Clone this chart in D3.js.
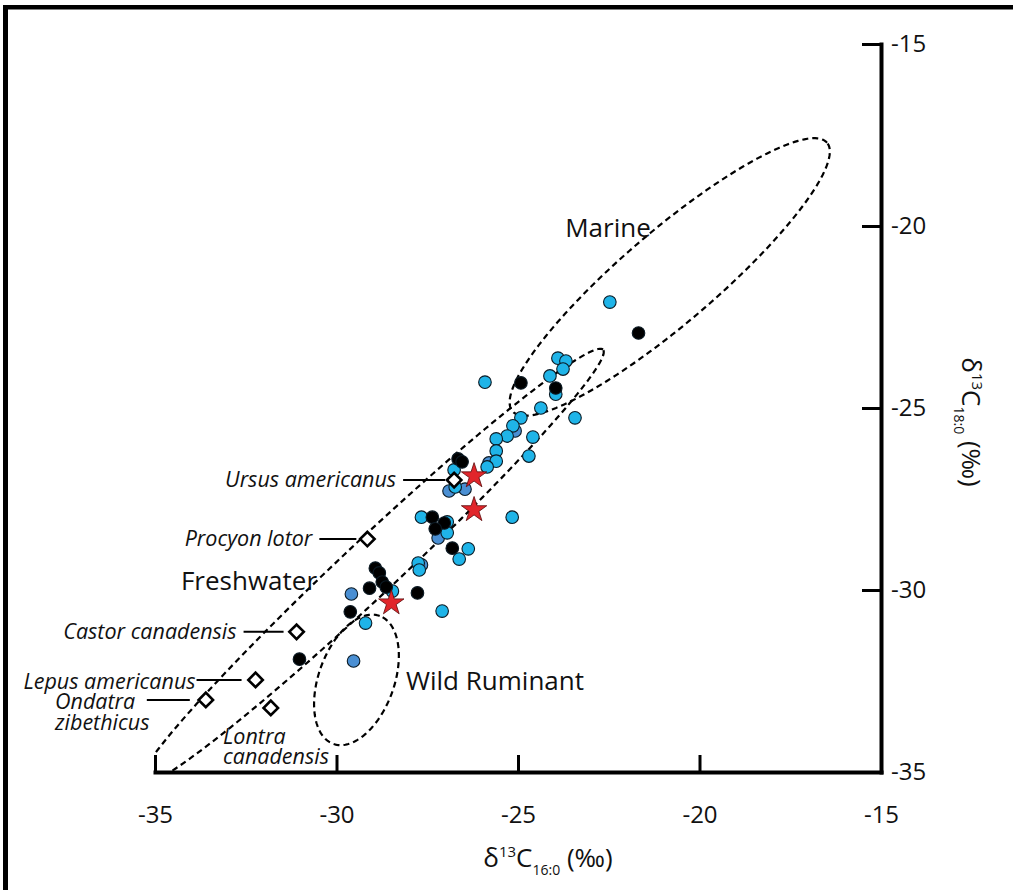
<!DOCTYPE html>
<html>
<head>
<meta charset="utf-8">
<script src="https://cdn.jsdelivr.net/npm/d3@7"></script>
<style>
  body { margin: 0; background: #fff; }
  svg { display: block; font-family: "Open Sans", sans-serif; }
</style>
</head>
<body>
<div id="chart"></div>
<script>
// axis ticks
const xTicks = [-35, -30, -25, -20, -15];
const yTicks = [-15, -20, -25, -30, -35];

// archaeological residues [d13C 16:0, d13C 18:0]
const cyanPts = [
  [-22.47, -22.09], [-25.91, -24.29], [-23.90, -23.63], [-23.68, -23.71], [-23.76, -23.93],
  [-24.12, -24.12], [-23.96, -24.62], [-24.37, -25.00], [-23.43, -25.27], [-24.92, -25.27],
  [-25.14, -25.49], [-25.30, -25.77], [-25.60, -25.85], [-24.59, -25.80], [-25.60, -26.18],
  [-24.70, -26.32], [-25.60, -26.46], [-25.85, -26.62], [-26.76, -26.70], [-26.73, -27.17],
  [-25.16, -28.00], [-27.66, -28.00], [-26.95, -28.13], [-26.95, -28.43], [-26.37, -28.87],
  [-26.62, -29.15], [-27.75, -29.26], [-27.72, -29.45], [-28.46, -30.03], [-29.20, -30.91],
  [-27.09, -30.58]
];
const bluePts = [
  [-25.08, -25.63], [-25.80, -26.51], [-26.90, -27.28], [-26.46, -27.23],
  [-27.20, -28.57], [-27.66, -29.31], [-29.59, -30.11], [-29.53, -31.95]
];
const blackPts = [
  [-21.68, -22.94], [-24.92, -24.31], [-23.96, -24.45], [-26.65, -26.40], [-26.54, -26.48],
  [-27.36, -28.00], [-27.03, -28.16], [-27.28, -28.32], [-26.81, -28.85], [-28.93, -29.40],
  [-28.82, -29.53], [-28.74, -29.78], [-28.63, -29.92], [-29.09, -29.95], [-27.77, -30.08],
  [-29.62, -30.60], [-31.02, -31.90]
];
const starPts = [[-26.21, -26.84], [-26.21, -27.77], [-28.49, -30.33]];

// modern reference animals
const refNames = ["Ursus americanus", "Procyon lotor", "Castor canadensis",
  "Lepus americanus", "Ondatra zibethicus", "Lontra canadensis"];
const refX = [-26.76, -29.15, -31.10, -32.23, -33.60, -31.81];
const refY = [-26.98, -28.60, -31.15, -32.47, -33.02, -33.24];

// reference ranges (centre, semi axes, tilt in degrees)
const rangeNames = ["Marine", "Freshwater", "Wild Ruminant"];
const rangeCx = [-20.82, -29.04, -29.45];
const rangeCy = [-21.40, -29.37, -32.47];
const rangeA = [5.69, 8.74, 1.87];
const rangeB = [1.27, 0.76, 1.04];
const rangeAngle = [40.4, 43.1, 70];

const width = 1013, height = 890;
const svg = d3.select("#chart").append("svg")
  .attr("width", width)
  .attr("height", height);

// frame (top and left only)
svg.append("rect").attr("x", 3).attr("y", 5).attr("width", 5).attr("height", height).attr("fill", "#000");
svg.append("rect").attr("x", 3).attr("y", 5).attr("width", width).attr("height", 4.5).attr("fill", "#000");

const x = d3.scaleLinear().domain([-35, -15]).range([155, 881]);
const y = d3.scaleLinear().domain([-35, -15]).range([772, 44]);

svg.append("clipPath").attr("id", "plotclip")
  .append("rect").attr("x", 155).attr("y", 30).attr("width", 726).attr("height", 742);

// dashed ellipses
const ell = d3.line().x(d => x(d[0])).y(d => y(d[1])).curve(d3.curveLinearClosed);
const rangeG = svg.append("g").attr("clip-path", "url(#plotclip)");
rangeNames.forEach((n, i) => {
  const phi = rangeAngle[i] * Math.PI / 180;
  const pts = d3.range(0, 360, 2).map(deg => {
    const t = deg * Math.PI / 180;
    const u = rangeA[i] * Math.cos(t), v = rangeB[i] * Math.sin(t);
    return [rangeCx[i] + u * Math.cos(phi) - v * Math.sin(phi),
            rangeCy[i] + u * Math.sin(phi) + v * Math.cos(phi)];
  });
  rangeG.append("path")
    .attr("d", ell(pts))
    .attr("fill", "none")
    .attr("stroke", "#000")
    .attr("stroke-width", 2.2)
    .attr("stroke-dasharray", "6,4");
});

// axes (plain hyphen for negatives, like the original)
const fmt = d => String(d);
const xAxis = svg.append("g")
  .attr("transform", "translate(0,772)")
  .call(d3.axisBottom(x).tickValues(xTicks).tickFormat(fmt).tickSize(-17).tickSizeOuter(0).tickPadding(34));
const yAxis = svg.append("g")
  .attr("transform", "translate(881,0)")
  .call(d3.axisRight(y).tickValues(yTicks).tickFormat(fmt).tickSize(-19).tickSizeOuter(0).tickPadding(10));
[xAxis, yAxis].forEach(g => {
  g.select(".domain").attr("stroke-width", 4).attr("stroke-linecap", "square");
  g.selectAll(".tick line").attr("stroke-width", 3);
  g.selectAll(".tick text").attr("font-size", 24).attr("fill", "#111")
    .attr("font-family", "Open Sans, sans-serif");
});

// axis titles
const xTitle = svg.append("text")
  .attr("x", 548).attr("y", 867)
  .attr("text-anchor", "middle")
  .attr("font-size", 26).attr("fill", "#111");
xTitle.append("tspan").text("δ");
xTitle.append("tspan").attr("font-size", 15).attr("dy", -10).text("13");
xTitle.append("tspan").attr("dy", 10).text("C");
xTitle.append("tspan").attr("font-size", 14).attr("dy", 8).text("16:0");
xTitle.append("tspan").attr("dy", -8).text(" (‰)");

const yTitle = svg.append("text")
  .attr("transform", "translate(962,422) rotate(90)")
  .attr("text-anchor", "middle")
  .attr("font-size", 26).attr("fill", "#111");
yTitle.append("tspan").text("δ");
yTitle.append("tspan").attr("font-size", 15).attr("dy", -10).text("13");
yTitle.append("tspan").attr("dy", 10).text("C");
yTitle.append("tspan").attr("font-size", 14).attr("dy", 8).text("18:0");
yTitle.append("tspan").attr("dy", -8).text(" (‰)");

// range labels
const rangeLabelPos = [[608, 237], [249, 590], [495, 690]];
svg.selectAll(".rangeLabel")
  .data(rangeNames)
  .join("text")
  .attr("class", "rangeLabel")
  .attr("x", (d, i) => rangeLabelPos[i][0])
  .attr("y", (d, i) => rangeLabelPos[i][1])
  .attr("text-anchor", "middle")
  .attr("font-size", 26)
  .attr("fill", "#111")
  .text(d => d);

// sample points
const dots = svg.append("g");
const addDots = (pts, fill) => {
  dots.selectAll(null)
    .data(pts)
    .join("circle")
    .attr("cx", d => x(d[0]))
    .attr("cy", d => y(d[1]))
    .attr("r", 6.3)
    .attr("fill", fill)
    .attr("stroke", "#0b1a24")
    .attr("stroke-width", 1.1);
};
addDots(bluePts, "#4a8fd3");
addDots(cyanPts, "#1fb4e8");
addDots(blackPts, "#000");

svg.append("g").selectAll("path")
  .data(starPts)
  .join("path")
  .attr("d", d3.symbol(d3.symbolStar, 200))
  .attr("transform", d => `translate(${x(d[0])},${y(d[1]) + 1})`)
  .attr("fill", "#e1262b")
  .attr("stroke", "#5a0a0a")
  .attr("stroke-width", 0.8);

// reference animals: diamonds, leader lines and italic names
// [text anchor, text x (dx for "end"), text dy per line, line from dx, line to dx]
const refLayout = [
  ["end", -58, [7], -51, -9],
  ["end", -55, [7], -48, -11],
  ["end", -60, [7], -53, -13],
  ["end", -60, [9], -59, -14],
  ["start", 55, [9, 30], -59, -16],
  ["start", 223, [36, 56], 0, 0]
];
const refs = svg.append("g");
refNames.forEach((n, i) => {
  const cx = x(refX[i]), cy = y(refY[i]);
  const lay = refLayout[i];
  if (lay[3] !== lay[4]) {
    refs.append("line")
      .attr("x1", cx + lay[3]).attr("x2", cx + lay[4])
      .attr("y1", cy).attr("y2", cy)
      .attr("stroke", "#000").attr("stroke-width", 2);
  }
  const words = n.split(" ");
  const lines = lay[2].length > 1 ? words : [n];
  lines.forEach((w, j) => {
    refs.append("text")
      .attr("x", lay[0] === "end" ? cx + lay[1] : lay[1])
      .attr("y", cy + lay[2][j])
      .attr("text-anchor", lay[0])
      .attr("font-size", 21.5)
      .attr("font-style", "italic")
      .attr("fill", "#111")
      .text(w);
  });
  refs.append("path")
    .attr("d", d3.symbol(d3.symbolSquare, 105))
    .attr("transform", `translate(${cx},${cy}) rotate(45)`)
    .attr("fill", "#fff")
    .attr("stroke", "#000")
    .attr("stroke-width", 2.6);
});
</script>
</body>
</html>
